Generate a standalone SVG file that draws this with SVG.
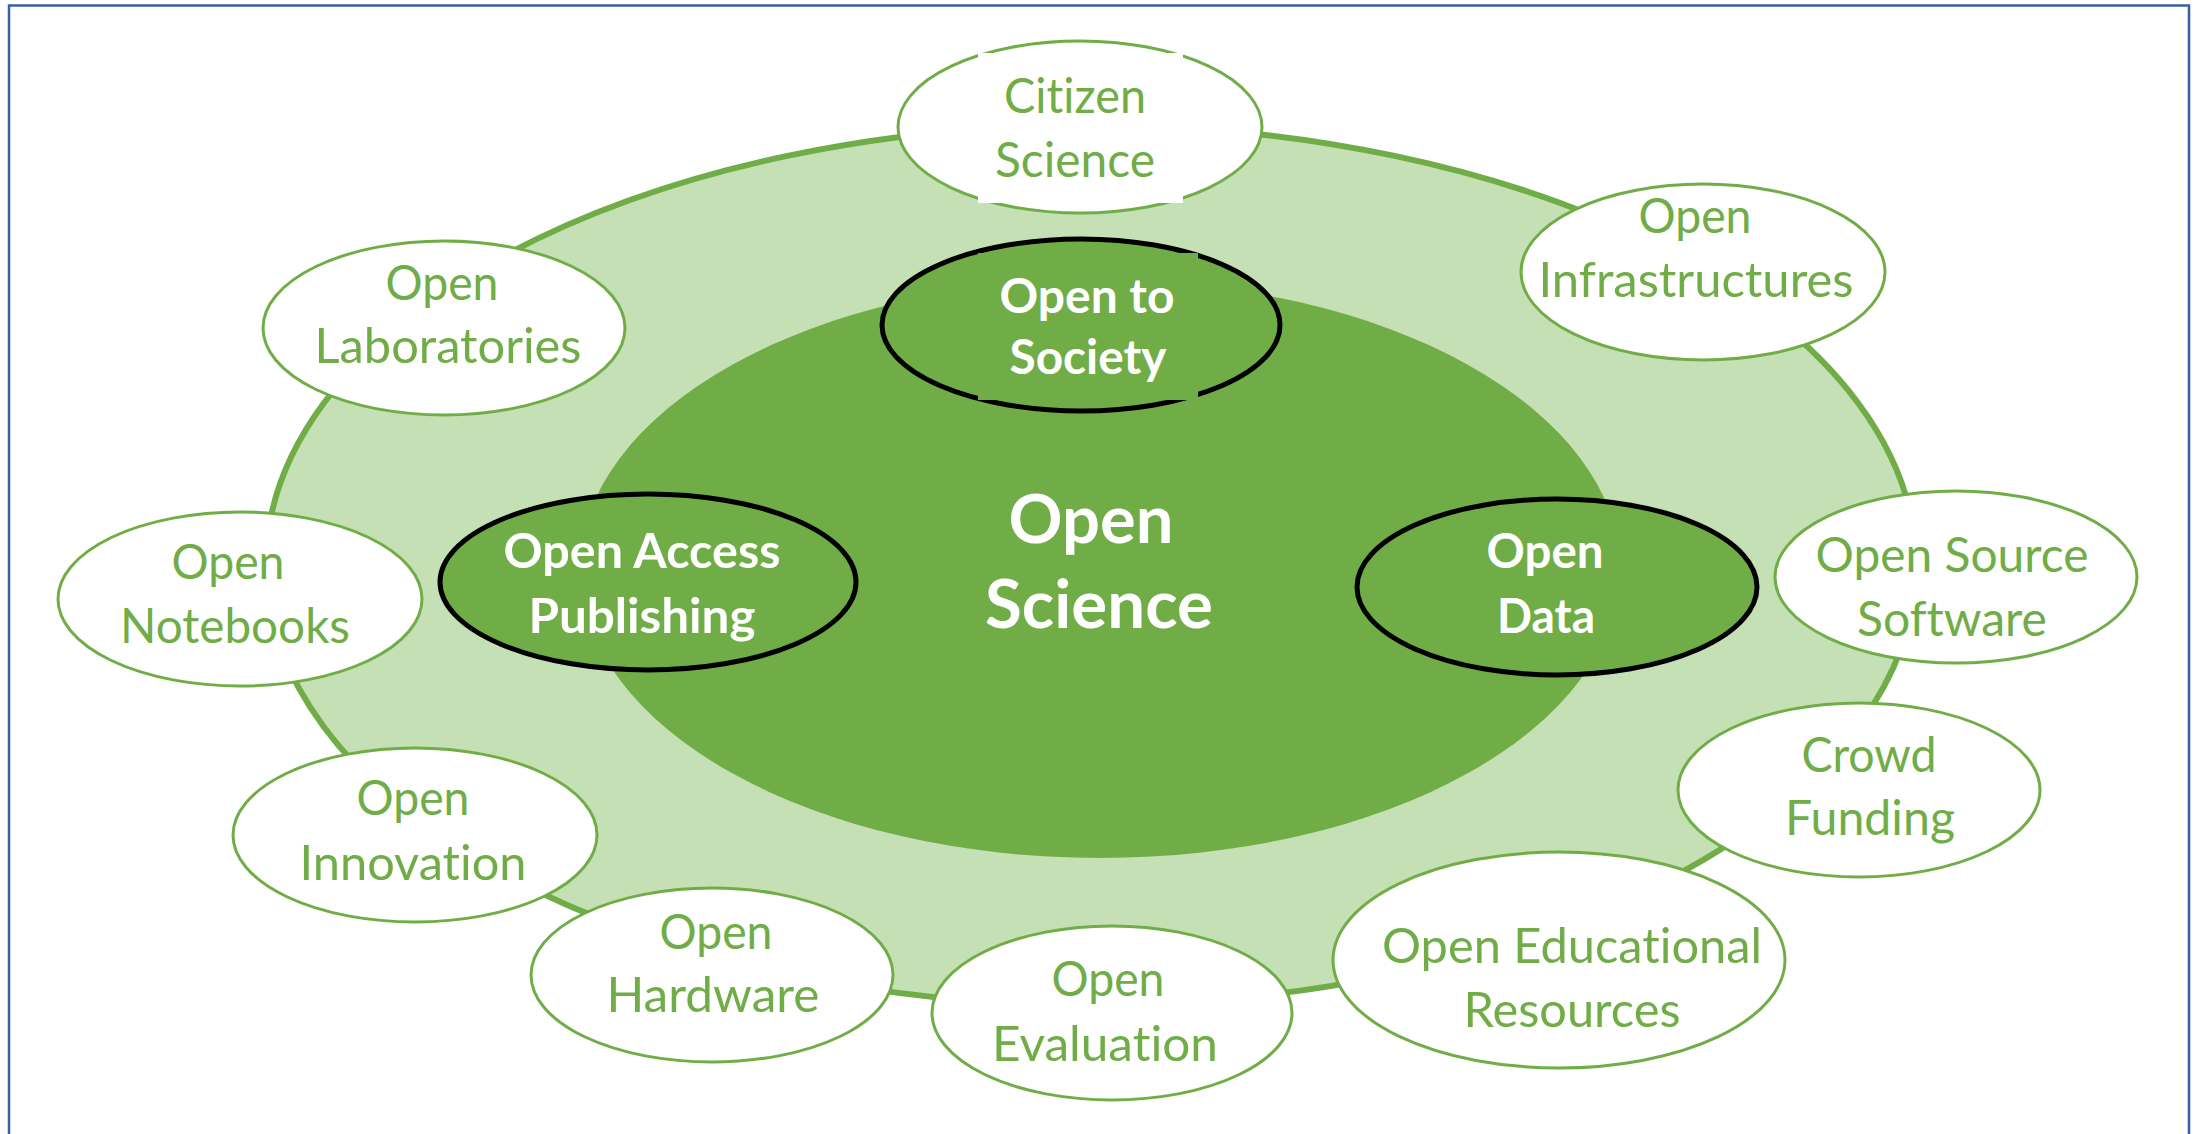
<svg xmlns="http://www.w3.org/2000/svg" width="2197" height="1134" viewBox="0 0 2197 1134">
<style>
.ring{fill:#C5E0B4;stroke:#70AD47;stroke-width:6}
.core{fill:#70AD47;stroke:none}
.pillar ellipse{fill:#70AD47;stroke:#000;stroke-width:5}
.node ellipse{fill:#fff;stroke:#70AD47;stroke-width:3}
text{font-family:Lato,"Open Sans",sans-serif;text-anchor:middle;font-variant-ligatures:none}
.node text{font-size:47.6px;fill:#70AD47}
.pillar text{font-size:47.6px;font-weight:bold;fill:#fff}
.big{font-size:66.5px;font-weight:bold;fill:#fff}
</style>
<rect x="0" y="0" width="2197" height="1134" fill="#fff"/>
<rect x="9" y="5.5" width="2180" height="1140" fill="none" stroke="#3B5DA8" stroke-width="2.5"/>
<g id="open-science">
<ellipse class="ring" cx="1091" cy="565" rx="825" ry="440"/>
<ellipse class="core" cx="1100" cy="569" rx="520" ry="289"/>
<text class="big" x="1091" y="543" textLength="165" lengthAdjust="spacingAndGlyphs">Open</text>
<text class="big" x="1099" y="628" textLength="228" lengthAdjust="spacingAndGlyphs">Science</text>
</g>
<g id="connectors"/>
<g id="open-to-society" class="pillar">
<ellipse cx="1081" cy="325" rx="199" ry="86"/>
<rect x="978" y="253" width="220" height="147" fill="#70AD47"/>
<text x="1087" y="313" textLength="175" lengthAdjust="spacingAndGlyphs">Open to</text>
<text x="1088" y="374" textLength="157" lengthAdjust="spacingAndGlyphs">Society</text>
</g>
<g id="open-access-publishing" class="pillar">
<ellipse cx="648" cy="582" rx="208" ry="88"/>
<text x="642" y="568" textLength="277" lengthAdjust="spacingAndGlyphs">Open Access</text>
<text x="642" y="633" textLength="227" lengthAdjust="spacingAndGlyphs">Publishing</text>
</g>
<g id="open-data" class="pillar">
<ellipse cx="1557" cy="587" rx="200" ry="88"/>
<text x="1545" y="568" textLength="117" lengthAdjust="spacingAndGlyphs">Open</text>
<text x="1546" y="633" textLength="98" lengthAdjust="spacingAndGlyphs">Data</text>
</g>
<g id="citizen-science" class="node">
<ellipse cx="1080" cy="127" rx="182" ry="86"/>
<rect x="978" y="53" width="205" height="150" fill="#fff"/>
<text x="1075" y="113" textLength="142" lengthAdjust="spacingAndGlyphs">Citizen</text>
<text x="1075" y="177" textLength="160" lengthAdjust="spacingAndGlyphs">Science</text>
</g>
<g id="open-infrastructures" class="node">
<ellipse cx="1703" cy="272" rx="182" ry="88"/>
<text x="1695" y="233" textLength="113" lengthAdjust="spacingAndGlyphs">Open</text>
<text x="1696" y="297" textLength="315" lengthAdjust="spacingAndGlyphs">Infrastructures</text>
</g>
<g id="open-laboratories" class="node">
<ellipse cx="444" cy="328" rx="181" ry="87"/>
<text x="442" y="300" textLength="113" lengthAdjust="spacingAndGlyphs">Open</text>
<text x="448" y="363" textLength="267" lengthAdjust="spacingAndGlyphs">Laboratories</text>
</g>
<g id="open-notebooks" class="node">
<ellipse cx="240" cy="599" rx="182" ry="87"/>
<text x="228" y="579" textLength="113" lengthAdjust="spacingAndGlyphs">Open</text>
<text x="235" y="643" textLength="230" lengthAdjust="spacingAndGlyphs">Notebooks</text>
</g>
<g id="open-source-software" class="node">
<ellipse cx="1956" cy="577" rx="181" ry="86"/>
<text x="1952" y="572" textLength="273" lengthAdjust="spacingAndGlyphs">Open Source</text>
<text x="1952" y="636" textLength="190" lengthAdjust="spacingAndGlyphs">Software</text>
</g>
<g id="crowd-funding" class="node">
<ellipse cx="1859" cy="790" rx="181" ry="87"/>
<text x="1869" y="772" textLength="135" lengthAdjust="spacingAndGlyphs">Crowd</text>
<text x="1870" y="835" textLength="170" lengthAdjust="spacingAndGlyphs">Funding</text>
</g>
<g id="open-innovation" class="node">
<ellipse cx="415" cy="835" rx="182" ry="87"/>
<text x="413" y="815" textLength="113" lengthAdjust="spacingAndGlyphs">Open</text>
<text x="413" y="880" textLength="227" lengthAdjust="spacingAndGlyphs">Innovation</text>
</g>
<g id="open-hardware" class="node">
<ellipse cx="712" cy="975" rx="181" ry="87"/>
<text x="716" y="949" textLength="113" lengthAdjust="spacingAndGlyphs">Open</text>
<text x="713" y="1012" textLength="213" lengthAdjust="spacingAndGlyphs">Hardware</text>
</g>
<g id="open-evaluation" class="node">
<ellipse cx="1112" cy="1013" rx="180" ry="87"/>
<text x="1108" y="996" textLength="113" lengthAdjust="spacingAndGlyphs">Open</text>
<text x="1105" y="1061" textLength="226" lengthAdjust="spacingAndGlyphs">Evaluation</text>
</g>
<g id="open-educational-resources" class="node">
<ellipse cx="1559" cy="960" rx="226" ry="108"/>
<text x="1572" y="963" textLength="380" lengthAdjust="spacingAndGlyphs">Open Educational</text>
<text x="1572" y="1027" textLength="217" lengthAdjust="spacingAndGlyphs">Resources</text>
</g>
</svg>
